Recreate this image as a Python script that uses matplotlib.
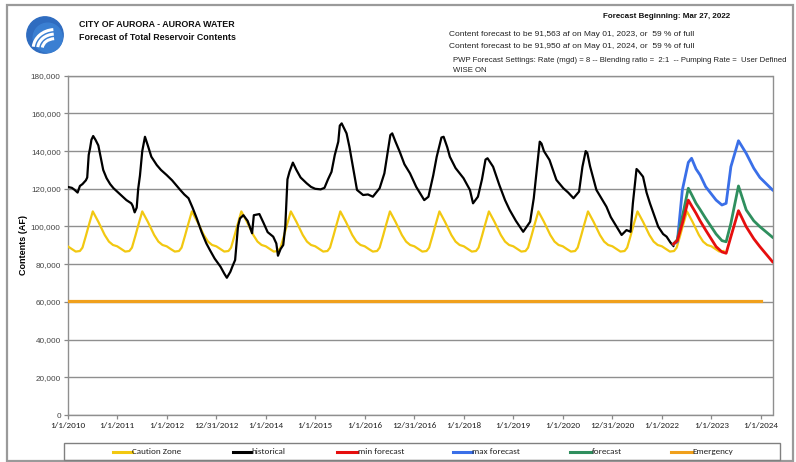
import matplotlib
matplotlib.use('Agg')
import matplotlib.pyplot as plt
import pandas as pd
from matplotlib import font_manager
from matplotlib.patches import Rectangle, Circle, Arc
from matplotlib.lines import Line2D

# ---------------- data ----------------
hist_dates = [
    '2010-01-01', '2010-02-01', '2010-02-20', '2010-03-15', '2010-04-01', '2010-04-20', '2010-05-15',
    '2010-05-25', '2010-06-05', '2010-06-15', '2010-06-25', '2010-07-08', '2010-07-25', '2010-08-15',
    '2010-09-01', '2010-09-20', '2010-10-15', '2010-11-10', '2010-12-05',
    '2011-01-01', '2011-02-01', '2011-03-10', '2011-04-15', '2011-04-25', '2011-05-10', '2011-05-25',
    '2011-06-05', '2011-06-18', '2011-07-05', '2011-07-25', '2011-08-15', '2011-09-10', '2011-10-20',
    '2011-11-20',
    '2012-01-01', '2012-02-10', '2012-03-10', '2012-04-10', '2012-05-10', '2012-06-10', '2012-07-10',
    '2012-08-10', '2012-09-15', '2012-10-20', '2012-11-15', '2012-12-20',
    '2013-02-01', '2013-03-01', '2013-03-20', '2013-04-15', '2013-05-01', '2013-05-20', '2013-06-10',
    '2013-06-25', '2013-07-20', '2013-08-20', '2013-09-05', '2013-09-22', '2013-10-05', '2013-11-15',
    '2013-12-15',
    '2014-01-15', '2014-02-25', '2014-03-20', '2014-04-01', '2014-04-20', '2014-05-10', '2014-05-25',
    '2014-06-10', '2014-06-25', '2014-07-20', '2014-08-15', '2014-09-15', '2014-10-30', '2014-12-01',
    '2015-01-01', '2015-02-10', '2015-03-10', '2015-04-05', '2015-05-01', '2015-05-25', '2015-06-20',
    '2015-07-01', '2015-07-15', '2015-08-20', '2015-09-10', '2015-10-10', '2015-11-05', '2015-12-20',
    '2016-01-25', '2016-03-01', '2016-04-20', '2016-05-25', '2016-06-20', '2016-07-08', '2016-07-22',
    '2016-08-15', '2016-09-15', '2016-10-20', '2016-11-30',
    '2017-01-15', '2017-03-15', '2017-04-15', '2017-05-20', '2017-06-15', '2017-07-20', '2017-08-05',
    '2017-09-01', '2017-09-20', '2017-11-01', '2017-12-30',
    '2018-02-15', '2018-03-10', '2018-04-15', '2018-05-15', '2018-06-10', '2018-06-25', '2018-08-05',
    '2018-09-20', '2018-11-01', '2018-12-05',
    '2019-01-20', '2019-03-15', '2019-05-05', '2019-06-01', '2019-06-20', '2019-07-15', '2019-07-28',
    '2019-08-15', '2019-09-25', '2019-11-15',
    '2020-01-05', '2020-02-10', '2020-03-20', '2020-04-30', '2020-05-25', '2020-06-18', '2020-06-30',
    '2020-07-20', '2020-09-05', '2020-10-20', '2020-11-18', '2020-12-20',
    '2021-02-01', '2021-03-10', '2021-04-15', '2021-05-15', '2021-06-01', '2021-06-28', '2021-07-12',
    '2021-08-15', '2021-09-10', '2021-10-05', '2021-11-05', '2021-12-05',
    '2022-01-10', '2022-02-05', '2022-03-05', '2022-03-27',
]
hist_values = [
    121000, 120500, 119500, 118000, 121500, 122500, 124500,
    126000, 138000, 141500, 146000, 148000, 146000, 143000,
    137000, 130000, 125600, 122500, 120300,
    118500, 116500, 114000, 112300, 111000, 107500, 110000,
    120000, 127000, 140000, 147600, 143000, 137000, 132600,
    130000,
    127300, 124500, 122000, 119400, 117000, 115000, 110000,
    104300, 97000, 91000, 87500, 83000,
    78700, 75000, 72800, 76000, 79000, 82200, 100000,
    104300, 106000, 103000, 99900, 96400, 106000, 106600,
    102000,
    97000, 94600, 91000, 84500, 88000, 90200, 100000,
    125000, 129000, 133900, 130000, 126000, 122900, 121000,
    120000, 119700, 120500, 125000, 129000, 137900, 145000,
    153500, 154700, 149400, 142300, 130000, 119400, 116700,
    117000, 115800, 120300, 128200, 140000, 148500, 149400,
    145000, 139700, 133000, 128200,
    121000, 114000, 115800, 127000, 137000, 147200, 147600,
    142000, 137000, 131000, 125600,
    119400, 112300, 115800, 125000, 135500, 136200, 131700,
    122000, 114000, 108800,
    103000, 97200, 102500, 115000, 128200, 145000, 144000,
    140000, 135300, 124700,
    120300, 118000, 115000, 118500, 131700, 140000, 139000,
    132000, 119400, 114000, 110500, 105000,
    99900, 95500, 98100, 97200, 112300, 130500, 129500,
    126400, 118000, 112300, 106000, 99900,
    96000, 94600, 91500, 89700,
]

# Caution zone (rule curve), points within each year
caution_md = ['01-01', '02-01', '03-01', '04-01', '04-20', '05-15',
              '06-05', '07-05', '08-15', '10-01', '11-01', '12-01']
caution_years = [2010, 2011, 2012, 2013, 2014, 2015, 2016, 2017, 2018, 2019, 2020, 2021, 2022, 2023]
caution_values = [
    [89500, 88000, 86700, 87000, 88800, 95000, 100500, 108000, 102500, 95500, 92000, 90200],
    [89500, 88000, 86700, 87000, 88800, 95000, 100500, 108000, 102500, 95500, 92000, 90200],
    [89500, 88000, 86700, 87000, 88800, 95000, 100500, 108000, 102500, 95500, 92000, 90200],
    [89500, 88000, 86700, 87000, 88800, 95000, 100500, 108000, 102500, 95500, 92000, 90200],
    [89500, 88000, 86700, 87000, 88800, 95000, 100500, 108000, 102500, 95500, 92000, 90200],
    [89500, 88000, 86700, 87000, 88800, 95000, 100500, 108000, 102500, 95500, 92000, 90200],
    [89500, 88000, 86700, 87000, 88800, 95000, 100500, 108000, 102500, 95500, 92000, 90200],
    [89500, 88000, 86700, 87000, 88800, 95000, 100500, 108000, 102500, 95500, 92000, 90200],
    [89500, 88000, 86700, 87000, 88800, 95000, 100500, 108000, 102500, 95500, 92000, 90200],
    [89500, 88000, 86700, 87000, 88800, 95000, 100500, 108000, 102500, 95500, 92000, 90200],
    [89500, 88000, 86700, 87000, 88800, 95000, 100500, 108000, 102500, 95500, 92000, 90200],
    [89500, 88000, 86700, 87000, 88800, 95000, 100500, 108000, 102500, 95500, 92000, 90200],
    [89500, 88000, 86700, 87000, 88800, 95000, 100500, 108000, 102500, 95500, 92000, 90200],
    [89500, 88000, 86700, 87000],
]

fc_dates = ['2022-03-27', '2022-04-25', '2022-06-01', '2022-07-15', '2022-08-08', '2022-09-10',
            '2022-10-10', '2022-11-20', '2023-02-05', '2023-03-20', '2023-04-20', '2023-05-25',
            '2023-07-20', '2023-09-15', '2023-11-10', '2023-12-25', '2024-03-27']
max_fc = [90700, 91900, 119400, 134000, 136200, 130500, 127300, 121100, 114000, 111400, 112300,
          131700, 145500, 138800, 130900, 126000, 119400]
min_fc = [90700, 92500, 101700, 114000, 111000, 107000, 103000, 98100, 89300, 86500, 85800,
          94600, 108400, 99900, 93500, 89300, 81300]
mid_fc = [90700, 93000, 105200, 120300, 117000, 112300, 109000, 104300, 96000, 92500, 91900,
          101700, 121500, 108800, 103000, 99900, 94300]

emergency_dates = ['2010-01-01', '2024-01-01']
emergency_values = [60500, 60500]

x_tick_labels = ['1/1/2010', '1/1/2011', '1/1/2012', '12/31/2012', '1/1/2014', '1/1/2015', '1/1/2016',
                 '12/31/2016', '1/1/2018', '1/1/2019', '1/1/2020', '12/31/2020', '1/1/2022',
                 '1/1/2023', '1/1/2024']
y_ticks = [0, 20000, 40000, 60000, 80000, 100000, 120000, 140000, 160000, 180000]
legend_labels = ['Caution Zone', 'historical', 'min forecast', 'max forecast', 'forecast', 'Emergency']

# ---------------- fonts ----------------
names = {f.name for f in font_manager.fontManager.ttflist}
NARROW = 'Liberation Sans Narrow' if 'Liberation Sans Narrow' in names else 'Liberation Sans'
CAL = 'Carlito' if 'Carlito' in names else 'Lato'
narrow_ok = NARROW == 'Liberation Sans Narrow'
K = 1.18 if narrow_ok else 1.0   # size factor for narrow face

W, H = 796, 462
fig = plt.figure(figsize=(W / 100, H / 100), dpi=100)
fig.patch.set_facecolor('white')

def fx(px):
    return px / W

def fy(py):
    return 1 - py / H

# plot area
L, R, T, B = 67.7, 772.5, 75.7, 415.0
ax = fig.add_axes([fx(L), fy(B), fx(R - L), (B - T) / H])

c_yellow = '#f2c811'
c_black = '#000000'
c_red = '#e60e0e'
c_blue = '#3a6fe8'
c_green = '#2f8f5e'
c_orange = '#f0a01c'
colors = [c_yellow, c_black, c_red, c_blue, c_green, c_orange]

cz_x, cz_y = [], []
for yr, vals in zip(caution_years, caution_values):
    for md, v in zip(caution_md, vals):
        cz_x.append(pd.Timestamp(f'{yr}-{md}'))
        cz_y.append(v)

ax.plot(cz_x, cz_y, color=c_yellow, lw=1.6, zorder=3)
ax.plot(pd.to_datetime(hist_dates), hist_values, color=c_black, lw=1.6, zorder=4)
fcd = pd.to_datetime(fc_dates)
ax.plot(fcd, max_fc, color=c_blue, lw=2.0, zorder=4)
ax.plot(fcd, mid_fc, color=c_green, lw=2.0, zorder=4)
ax.plot(fcd, min_fc, color=c_red, lw=2.0, zorder=5)
ax.plot(pd.to_datetime(emergency_dates), emergency_values, color=c_orange, lw=2.3, zorder=5)

ax.set_xlim(pd.Timestamp('2010-01-01'), pd.Timestamp('2024-03-27'))
ax.set_ylim(0, 180000)
tick_pos = pd.to_datetime(x_tick_labels, format='%m/%d/%Y')
ax.set_xticks(tick_pos)
ax.set_xticklabels(x_tick_labels, fontsize=6.6, family=CAL, color='#222222')
ax.set_yticks(y_ticks)
ax.set_yticklabels([f'{v:,}' for v in y_ticks], fontsize=5.9 * K, family=NARROW, color='#444444')
ax.tick_params(axis='both', length=3, width=0.9, color='#888888', pad=2)
ax.grid(axis='y', color='#8f8f8f', lw=1.0, zorder=1)
ax.set_axisbelow(True)
for s in ['left', 'bottom', 'right', 'top']:
    ax.spines[s].set_color('#8f8f8f')
    ax.spines[s].set_linewidth(1.0)
ax.set_ylabel('Contents (AF)', fontsize=6.5 * K, family=NARROW, fontweight='bold')
ax.yaxis.set_label_coords(-(L - 28) / (R - L), 0.5)

# outer frame
fig.patches.append(Rectangle((fx(7), fy(461)), fx(786), 456 / H, transform=fig.transFigure,
                             fill=False, edgecolor='#9a9a9a', lw=1.6))
# legend box and entries
fig.patches.append(Rectangle((fx(64), fy(460)), fx(716), 17 / H, transform=fig.transFigure,
                             fill=False, edgecolor='#808080', lw=1.0))
leg_x = [(113, 132), (233, 251), (337, 357), (453, 472), (570, 591), (671, 692)]
for (x0, x1), c, lab in zip(leg_x, colors, legend_labels):
    fig.lines.append(Line2D([fx(x0), fx(x1)], [fy(451.5), fy(451.5)], transform=fig.transFigure,
                            color=c, lw=2.2))
    fig.text(fx(x1 + 0.5), fy(451.5), lab, fontsize=6.6, family=CAL, va='center', ha='left',
             color='#222222')

# header text
hs = 6.4 * K
fig.text(fx(79), fy(24.5), 'CITY OF AURORA - AURORA WATER', fontsize=hs, family=NARROW,
         fontweight='bold', va='center', ha='left', color='#111111')
fig.text(fx(79), fy(37.7), 'Forecast of Total Reservoir Contents', fontsize=hs, family=NARROW,
         fontweight='bold', va='center', ha='left', color='#111111')
fig.text(fx(603), fy(16), 'Forecast Beginning: Mar 27, 2022', fontsize=5.8 * K, family=NARROW,
         fontweight='bold', va='center', ha='left', color='#111111')
cs = 6.05 * K
fig.text(fx(449), fy(34.5), 'Content forecast to be 91,563 af on May 01, 2023, or  59 % of full',
         fontsize=cs, family=NARROW, va='center', ha='left', color='#222222')
fig.text(fx(449), fy(46), 'Content forecast to be 91,950 af on May 01, 2024, or  59 % of full',
         fontsize=cs, family=NARROW, va='center', ha='left', color='#222222')
ps = 5.6 * K
fig.text(fx(453), fy(60), 'PWP Forecast Settings: Rate (mgd) = 8 -- Blending ratio =  2:1  -- Pumping Rate =  User Defined',
         fontsize=ps, family=NARROW, va='center', ha='left', color='#222222')
fig.text(fx(453), fy(70), 'WISE ON', fontsize=ps, family=NARROW, va='center', ha='left', color='#222222')

# logo
lax = fig.add_axes([fx(25), fy(55), fx(40), 40 / H])
lax.set_xlim(-1.1, 1.1)
lax.set_ylim(-1.1, 1.1)
lax.set_aspect('equal')
lax.axis('off')
lax.add_patch(Circle((0, 0), 1.0, color='#2f6cc0'))
lax.add_patch(Circle((0.15, -0.15), 0.8, color='#3a7fd2'))
for r in [0.55, 0.8, 1.05]:
    lax.add_patch(Arc((0.55, -0.75), 2 * r + 0.3, 2 * r, theta1=95, theta2=175,
                      color='white', lw=2.2))

fig.savefig('out.png', dpi=100)
